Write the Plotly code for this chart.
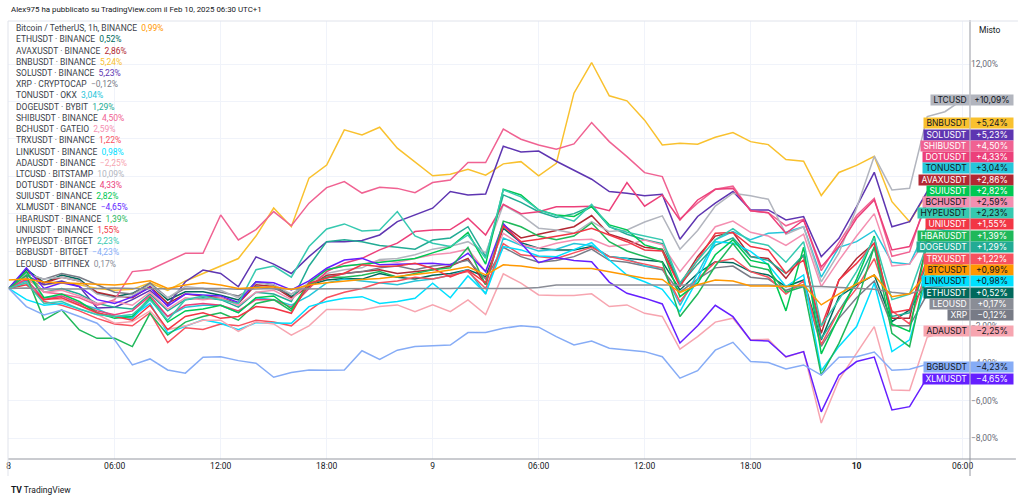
import plotly.graph_objects as go

# ---------------- data (percent change, hourly from Feb 8 00:00) ----------------
hours = list(range(55))
x_tick_hours = [0, 6, 12, 18, 24, 30, 36, 42, 48, 54]
x_tick_labels = ["8", "06:00", "12:00", "18:00", "9", "06:00", "12:00", "18:00", "<b>10</b>", "06:00"]
y_tick_values = [-8, -6, -4, -2, 0, 2, 4, 6, 8, 10, 12]
y_tick_shown = [-8, -6, -4, -2, 12]   # the others sit behind the price tags

btc = [0.45, 0.5, 0.35, 0.3, 0.25, 0.2, 0.18, 0.27, 0.41, 0.0, 0.18,
       0.3, 0.18, 0.0, 0.05, 0.09, -0.05, 0.18, 0.3, 0.41, 0.48, 0.53,
       0.62, 0.75, 0.85, 0.98, 1.16, 0.72, 1.26, 1.2, 1.07, 1.07, 1.07,
       1.07, 0.89, 0.72, 0.54, 0.48, -0.22, 0.2, 0.45, 0.4, 0.13, 0.13,
       0.1, 0.18, -0.88, -0.29, 0.24, 0.72, -0.44, -0.29, 0.81, 0.9, 0.99]
eth = [0, 1.02, 0.31, 0.72, 0.49, -0.26, -0.44, -0.26, 0.24, -0.62, -0.18,
       -0.18, -0.36, -0.62, 0.36, 0.18, -0.44, 0.18, 0.45, 0.53, 0.5, 0.8,
       0.6, 0.5, 0.7, 0.8, 1.0, 0.63, 3.22, 2.45, 2.15, 2.06, 2.06,
       2.24, 1.7, 1.6, 1.52, 1.43, -0.08, 0.8, 1.43, 1.38, 0.9, 0.72,
       0.1, 0.45, -2.75, -0.44, 0.18, 0.72, -1.77, -1.15, 0.4, 0.5, 0.52]
avax = [0, 0.9, 0.3, 0.6, 0.4, -0.2, -0.4, -0.5, 0.1, -0.8, -0.3,
        -0.4, -0.5, -0.8, 0.2, 0.1, -0.5, 0.1, 0.7, 0.8, 0.9, 1.0,
        0.8, 0.9, 1.0, 1.2, 1.6, 0.2, 3.4, 2.7, 2.9, 3.1, 3.3,
        3.9, 2.9, 2.6, 2.2, 2.1, 0.2, 1.7, 2.8, 3.0, 1.7, 1.6,
        0.54, 1.79, -2.4, 0.45, 1.6, 2.42, -1.59, -1.59, 2.5, 2.8, 2.86]
bnb = [0, 0.4, 0.2, 0.3, 0.2, 0.0, -0.1, -0.05, 0.3, -0.1, 0.4,
       0.8, 1.17, 1.6, 2.8, 4.3, 3.3, 5.9, 6.6, 8.48, 8.21, 8.62,
       7.5, 6.78, 6.02, 6.11, 6.37, 6.06, 6.66, 6.78, 6.02, 6.69, 10.44,
       12.08, 10.3, 10.03, 9.0, 7.67, 7.76, 7.71, 8.08, 8.33, 7.85, 7.69,
       6.89, 6.8, 4.97, 6.2, 6.58, 7.06, 4.64, 3.57, 5.09, 5.3, 5.24]
sol = [0, 0.7, 0.2, 0.4, 0.1, -1.05, -1.0, -0.6, -0.1, -0.9, 0.36,
       0.98, 0.8, 0.09, 1.69, 1.3, 0.8, 1.7, 2.5, 2.5, 2.56, 2.86,
       3.57, 3.93, 4.29, 5.18, 5.0, 5.05, 7.6, 7.3, 7.35, 6.8, 6.3,
       5.84, 5.18, 5.09, 4.95, 5.03, 2.63, 3.85, 4.56, 5.18, 4.2, 4.2,
       3.66, 3.84, 1.7, 2.68, 4.37, 6.21, 3.3, 3.57, 5.18, 5.3, 5.23]
xrp = [0, 0.8, 0.5, 0.8, 0.6, 0.2, -0.2, -0.3, 0.3, -0.5, 0.0,
       0.0, -0.2, -0.4, 0.1, 0.0, -0.3, 0.2, 0.6, 0.8, 0.9, 1.1,
       1.2, 1.0, 1.2, 1.3, 1.5, 0.5, 2.2, 1.7, 1.4, 1.5, 1.7,
       2.1, 1.5, 1.4, 1.2, 1.0, -0.2, 0.5, 1.1, 1.2, 0.6, 0.5,
       -0.1, 0.2, -3.1, -1.6, -0.5, 0.4, -2.0, -2.0, -0.3, -0.15, -0.12]
ton = [0, 0.4, -0.5, -0.4, -0.8, -1.1, -1.5, -1.6, -0.6, -1.5, -1.0,
       -0.9, -0.9, -1.3, -0.5, -0.6, -0.9, -0.4, 0.3, 0.5, 0.4, 0.3,
       0.2, 0.4, 0.5, 0.7, 1.0, -0.3, 2.7, 2.3, 2.0, 2.1, 2.4,
       2.3, 1.7, 1.6, 1.2, 1.1, -0.9, 0.8, 2.6, 3.04, 2.6, 2.95,
       3.0, 3.3, 0.6, 2.2, 2.5, 3.1, 1.4, 1.3, 3.3, 3.1, 3.04]
doge = [0, 0.8, -0.2, 0.0, -0.3, -0.8, -1.0, -1.1, -0.3, -1.2, -0.6,
        -0.5, -0.6, -1.0, -0.2, -0.3, -0.7, 1.2, 2.5, 2.6, 2.5, 2.3,
        2.2, 2.1, 2.59, 2.7, 3.3, 1.7, 5.0, 4.6, 4.1, 3.8, 4.0,
        4.4, 3.3, 2.9, 2.6, 2.4, 0.2, 1.3, 2.3, 2.7, 1.7, 1.5,
        0.8, 1.8, -2.7, -1.2, 0.3, 2.2, -1.5, -1.3, 1.4, 1.35, 1.29]
shib = [0, 0.6, -0.2, -0.3, -0.5, -0.9, -0.6, 0.9, 1.0, 1.45, 1.88,
        1.88, 3.93, 2.59, 3.15, 4.11, 3.35, 4.56, 5.39, 5.71, 5.1, 5.41,
        5.35, 5.12, 5.66, 5.8, 6.73, 6.73, 8.52, 7.98, 7.67, 7.44, 7.73,
        8.87, 7.85, 7.05, 6.19, 5.98, 3.71, 4.56, 5.3, 5.47, 4.15, 4.05,
        3.35, 3.7, 0.95, 2.45, 3.9, 4.82, 1.72, 1.95, 4.9, 4.6, 4.5]
bch = [0, 0.6, -0.2, -0.1, -0.4, -0.8, -0.7, -0.9, -0.2, -1.1, -0.5,
       -0.6, -0.5, -0.9, -0.2, -0.1, -0.6, 0.3, 1.0, 1.2, 1.3, 1.5,
       1.4, 1.6, 1.8, 1.9, 2.1, 0.9, 2.95, 2.33, 2.15, 2.42, 2.59,
       2.63, 2.24, 2.33, 2.59, 2.33, 0.9, 2.06, 3.3, 3.6, 3.0, 2.8,
       2.3, 2.9, 0.1, 1.5, 2.8, 4.0, 1.2, 1.3, 2.7, 2.6, 2.59]
trx = [0, 0.3, -0.7, -0.9, -1.2, -1.6, -1.9, -2.0, -1.3, -2.9, -2.1,
       -2.2, -1.9, -2.0, -1.7, -1.8, -2.0, -1.2, -0.5, -0.2, 0.0, 0.3,
       0.4, 0.6, 0.5, 0.7, 0.9, 0.0, 2.4, 1.8, 1.7, 1.6, 1.9,
       2.2, 1.7, 1.5, 1.3, 1.1, -0.7, 0.5, 1.4, 1.6, 0.9, 0.6,
       -0.3, 0.4, -3.0, -1.2, 0.0, 1.6, -1.2, -1.9, 1.1, 1.2, 1.22]
link = [0, -0.6, -0.9, -0.8, -1.1, -1.4, -1.5, -1.5, -0.8, -2.39, -2.03,
        -1.68, -1.86, -2.21, -1.83, -1.85, -1.86, -0.97, -0.7, -0.53, -0.44, -0.8,
        -0.7, -0.53, 0.28, -0.5, 0.67, -0.26, 2.24, 2.06, 1.74, 1.7, 2.06,
        2.45, 1.52, 0.72, 0.36, -0.05, -1.24, 0.5, 2.5, 2.42, 1.98, 1.26,
        0.1, 0.72, -4.4, -3.1, -2.04, 0.28, -3.38, -2.75, 0.6, 0.9, 0.98]
ada = [0, 0.3, -0.5, -0.6, -0.9, -1.4, -1.86, -1.77, -1.2, -2.2, -2.0,
       -1.7, -1.7, -2.3, -1.78, -1.9, -2.5, -2.0, -1.12, -1.12, -1.15, -0.97,
       -0.88, -1.24, -0.88, -1.24, -0.61, -1.4, 0.78, 0.28, -0.35, -0.38, -0.38,
       -0.29, -0.97, -0.88, -1.33, -1.5, -3.25, -2.58, -1.8, -1.59, -2.75, -2.72,
       -3.68, -3.38, -7.2, -4.89, -3.47, -2.04, -5.43, -5.46, -2.6, -2.35, -2.25]
ltc = [0, 0.8, 0.5, 0.6, 0.4, -0.3, -0.5, -0.4, 0.2, -0.5, 0.1,
       0.0, -0.1, -0.5, 0.3, 0.2, -0.3, 0.3, 0.8, 1.0, 1.1, 1.55,
       1.6, 1.8, 2.1, 2.25, 2.5, 1.9, 4.47, 3.93, 3.22, 3.13, 2.95,
       3.57, 3.04, 3.13, 3.55, 3.88, 2.1, 3.1, 4.4, 5.09, 4.95, 4.77,
       2.9, 3.3, 0.35, 1.9, 4.3, 7.07, 5.27, 5.36, 9.19, 9.45, 10.09]
dot = [0, 0.5, -0.6, -0.4, -0.8, -1.2, -1.4, -1.2, -0.4, -1.5, -0.9,
       -0.8, -0.9, -1.2, -0.6, -0.6, -1.0, 0.0, 0.9, 1.35, 1.61, 2.06,
       2.42, 3.04, 3.13, 3.15, 3.75, 2.86, 4.5, 4.0, 4.1, 4.37, 4.37,
       4.4, 4.16, 5.66, 4.4, 5.0, 3.66, 4.73, 5.3, 5.35, 4.15, 4.05,
       2.95, 3.66, 1.15, 2.24, 3.75, 4.73, 2.06, 2.24, 4.6, 4.4, 4.33]
sui = [0, 0.9, -0.5, -0.3, -0.7, -1.3, -1.6, -1.5, -0.5, -1.8, -1.2,
       -1.1, -0.9, -1.3, -0.5, -0.4, -1.1, 0.3, 1.0, 1.2, 1.3, 1.4,
       1.5, 1.6, 1.9, 2.2, 3.0, 1.3, 5.3, 5.0, 4.2, 3.93, 3.85,
       4.37, 3.4, 3.13, 2.33, 2.06, -0.44, 0.28, 1.8, 2.6, 1.5, 1.3,
       -1.2, 2.2, -3.5, -1.5, 0.5, 2.8, -1.9, -2.3, 2.6, 2.8, 2.82]
xlm = [0, 1.1, 0.0, 0.3, 0.1, -0.6, -0.8, -0.45, 0.05, -0.95, -0.3,
       -0.35, -0.4, -0.75, 0.36, 0.3, -0.08, 0.4, 1.08, 1.52, 1.61, 1.26,
       1.3, 1.3, 1.35, 1.25, 1.88, 0.9, 3.46, 2.42, 1.38, 1.65, 1.5,
       1.43, 0.34, -0.26, -0.52, -0.83, -2.92, -2.0, -0.9, -1.51, -2.77, -2.81,
       -3.65, -3.38, -6.6, -4.63, -3.91, -3.67, -6.5, -6.32, -4.76, -4.7, -4.65]
hbar = [0, 0.7, -1.68, -1.15, -2.22, -2.67, -2.67, -3.11, -1.33, -2.49, -1.8,
        -1.5, -1.3, -1.7, -0.8, -0.6, -1.2, 0.2, 0.6, 0.6, 0.7, 0.9,
        0.6, 0.8, 1.0, 1.1, 2.2, 0.2, 3.6, 3.3, 2.8, 2.6, 2.8,
        3.5, 2.5, 2.0, 1.7, 1.4, -1.5, -0.3, 1.2, 2.4, 1.2, 1.0,
        -0.2, 0.1, -4.63, -2.94, -0.8, 2.24, -2.4, -3.11, 1.2, 1.35, 1.39]
uni = [0, 0.2, -0.6, -0.5, -0.9, -1.3, -1.5, -1.7, -0.9, -2.2, -1.5,
       -1.3, -1.6, -1.5, -0.97, -1.06, -1.33, 0.28, 0.54, 0.81, 1.26, 1.17,
       1.2, 1.35, 1.07, 0.62, 0.98, 0.3, 3.34, 2.5, 2.63, 2.77, 2.95,
       3.22, 2.86, 2.5, 2.06, 2.0, 0.1, 1.52, 2.95, 2.99, 2.24, 2.06,
       0.81, 1.52, -2.04, 0.45, 1.34, 2.42, -1.3, -1.13, 1.6, 1.55, 1.55]
hype = [0, 0.3, -0.8, -0.7, -1.1, -1.4, -1.5, -1.4, -0.6, -1.7, -0.6,
        -0.4, -0.6, -0.8, 1.0, 1.2, 0.6, 2.24, 3.18, 3.45, 3.07, 3.13,
        4.11, 2.81, 2.42, 2.24, 2.86, 1.61, 5.27, 4.9, 4.2, 3.9, 3.6,
        4.5, 3.3, 3.0, 2.8, 2.6, 0.3, 1.5, 2.6, 3.2, 2.5, 2.3,
        1.4, 2.5, -2.0, -0.6, 0.9, 2.7, -0.6, -0.3, 2.4, 2.3, 2.23]
bgb = [0, -0.97, -1.42, -1.15, -1.5, -1.86, -2.75, -4.09, -3.77, -4.36, -4.53,
       -3.68, -3.65, -3.86, -4.0, -4.75, -4.5, -4.36, -4.38, -4.36, -3.33, -3.79,
       -3.3, -3.11, -3.06, -3.03, -2.36, -2.36, -2.13, -2.0, -2.07, -2.58, -3.02,
       -2.81, -3.2, -3.29, -3.38, -3.65, -4.8, -4.4, -3.3, -2.88, -3.91, -3.96,
       -4.3, -4.09, -4.63, -3.68, -3.65, -3.4, -4.38, -4.32, -4.05, -4.15, -4.23]
leo = [0, 0.02, -0.03, -0.05, -0.03, 0.0, 0.02, 0.0, -0.02, -0.05, -0.03,
       0.0, 0.0, -0.05, -0.02, 0.0, -0.03, -0.02, 0.0, 0.0, 0.02, 0.0,
       0.0, -0.02, 0.0, 0.0, 0.02, 0.0, 0.0, 0.0, 0.05, 0.18, 0.19,
       0.19, 0.19, 0.19, 0.19, 0.18, 0.18, 0.19, 0.19, 0.19, 0.19, 0.18,
       0.1, 0.12, 0.1, 0.05, 0.0, -0.05, -0.2, -0.3, 0.05, 0.15, 0.17]

# legend label, tag label, values, line colour, tag text colour, tag pixel y
series = [
    ("Bitcoin / TetherUS, 1h, BINANCE", "BTCUSDT", btc, "#ff9800", "#131722", 270.0),
    ("ETHUSDT · BINANCE", "ETHUSDT", eth, "#00695c", "#ffffff", 292.7),
    ("AVAXUSDT · BINANCE", "AVAXUSDT", avax, "#b22833", "#ffffff", 180.0),
    ("BNBUSDT · BINANCE", "BNBUSDT", bnb, "#f9c12e", "#131722", 123.3),
    ("SOLUSDT · BINANCE", "SOLUSDT", sol, "#5e35b1", "#ffffff", 134.7),
    ("XRP · CRYPTOCAP", "XRP", xrp, "#787b86", "#ffffff", 315.3),
    ("TONUSDT · OKX", "TONUSDT", ton, "#26c6da", "#131722", 168.3),
    ("DOGEUSDT · BYBIT", "DOGEUSDT", doge, "#22ab94", "#ffffff", 247.3),
    ("SHIBUSDT · BINANCE", "SHIBUSDT", shib, "#f06292", "#ffffff", 146.0),
    ("BCHUSDT · GATEIO", "BCHUSDT", bch, "#f48fb1", "#131722", 202.3),
    ("TRXUSDT · BINANCE", "TRXUSDT", trx, "#f7525f", "#ffffff", 259.0),
    ("LINKUSDT · BINANCE", "LINKUSDT", link, "#00e0ff", "#131722", 281.3),
    ("ADAUSDT · BINANCE", "ADAUSDT", ada, "#f7a5b0", "#131722", 331.0),
    ("LTCUSD · BITSTAMP", "LTCUSD", ltc, "#b2b5be", "#131722", 100.0),
    ("DOTUSDT · BINANCE", "DOTUSDT", dot, "#ec407a", "#ffffff", 156.7),
    ("SUIUSDT · BINANCE", "SUIUSDT", sui, "#00c853", "#ffffff", 191.3),
    ("XLMUSDT · BINANCE", "XLMUSDT", xlm, "#651fff", "#ffffff", 379.0),
    ("HBARUSDT · BINANCE", "HBARUSDT", hbar, "#1fb85a", "#ffffff", 236.0),
    ("UNIUSDT · BINANCE", "UNIUSDT", uni, "#f23645", "#ffffff", 224.3),
    ("HYPEUSDT · BITGET", "HYPEUSDT", hype, "#36c9b0", "#131722", 213.3),
    ("BGBUSDT · BITGET", "BGBUSDT", bgb, "#86acf6", "#131722", 367.3),
    ("LEOUSD · BITFINEX", "LEOUSD", leo, "#8a8d96", "#ffffff", 304.3),
]

for s in series:
    assert len(s[2]) == len(hours), s[1]

# ---------------- geometry ----------------
W, H = 1024, 502
ML, MR, MT, MB = 6, 54, 21, 43
PW = W - ML - MR
PH = H - MT - MB
FONT = "Inter, Roboto, sans-serif"
TEXT_FONT = "Roboto, sans-serif"


def px_x(x):
    return (x - ML) / PW


def px_y(y):
    return (H - MB - y) / PH


def fmt(v, sign=False):
    s = f"{abs(v):.2f}".replace(".", ",") + "%"
    if v < 0:
        return "\u2212" + s
    return ("+" if sign else "") + s


fig = go.Figure()
draw_order = list(range(1, len(series))) + [0]
for i in draw_order:
    name, tag, vals, col, tcol, ty = series[i]
    fig.add_trace(go.Scatter(x=hours, y=vals, mode="lines",
                             line=dict(color=col, width=1.5),
                             hoverinfo="skip", showlegend=False))

annotations = []
annotations.append(dict(text="Alex975 ha pubblicato su TradingView.com il Feb 10, 2025 06:30 UTC+1",
                        x=px_x(7), y=px_y(10), xref="paper", yref="paper",
                        xanchor="left", yanchor="middle", showarrow=False,
                        font=dict(family=TEXT_FONT, size=7.9, color="#131722")))
annotations.append(dict(text="Misto", x=px_x(990), y=px_y(30), xref="paper", yref="paper",
                        xanchor="center", yanchor="middle", showarrow=False,
                        font=dict(family=TEXT_FONT, size=8.5, color="#131722")))
annotations.append(dict(text="<b>TV</b> TradingView", x=px_x(7), y=px_y(490), xref="paper", yref="paper",
                        xanchor="left", yanchor="middle", showarrow=False,
                        font=dict(family=TEXT_FONT, size=8.5, color="#131722")))

for k, (name, tag, vals, col, tcol, ty) in enumerate(series):
    ly = 28.3 + k * 11.2
    txt = f"{name}  <span style='color:{col}'>{fmt(vals[-1])}</span>"
    annotations.append(dict(text=txt, x=px_x(12), y=px_y(ly), xref="paper", yref="paper",
                            xanchor="left", yanchor="middle", showarrow=False,
                            font=dict(family=TEXT_FONT, size=8.5, color="#3b3f4a")))

for name, tag, vals, col, tcol, ty in sorted(series, key=lambda s: s[5]):
    annotations.append(dict(text="\u00a0" + tag + "\u00a0", x=px_x(969.5), y=px_y(ty),
                            xref="paper", yref="paper", xanchor="right", yanchor="middle",
                            showarrow=False, bgcolor=col, borderpad=0,
                            font=dict(family=FONT, size=8.5, color=tcol)))
    annotations.append(dict(text=fmt(vals[-1], sign=True), x=px_x(970), y=px_y(ty),
                            xref="paper", yref="paper", xanchor="left", yanchor="middle",
                            width=42, align="center",
                            showarrow=False, bgcolor=col, borderpad=0,
                            font=dict(family=FONT, size=8.5, color=tcol)))

shapes = [
    dict(type="line", xref="paper", yref="paper", x0=1, x1=1, y0=px_y(476), y1=px_y(20),
         line=dict(color="#9598a1", width=1)),
    dict(type="line", xref="paper", yref="paper", x0=0, x1=px_x(1016), y0=0, y1=0,
         line=dict(color="#9598a1", width=1)),
    dict(type="line", xref="paper", yref="paper", x0=0, x1=px_x(1018), y0=px_y(21), y1=px_y(21),
         line=dict(color="#e0e3eb", width=1)),
    dict(type="line", xref="paper", yref="paper", x0=0, x1=0, y0=px_y(476), y1=px_y(21),
         line=dict(color="#e0e3eb", width=1)),
]

fig.update_layout(
    width=W, height=H,
    margin=dict(l=ML, r=MR, t=MT, b=MB),
    paper_bgcolor="#ffffff", plot_bgcolor="#ffffff",
    showlegend=False,
    annotations=annotations,
    shapes=shapes,
    xaxis=dict(range=[-0.04, 54.42], tickmode="array", tickvals=x_tick_hours,
               ticktext=x_tick_labels, showgrid=True, gridcolor="#f0f3fa", gridwidth=1,
               zeroline=False, showline=False, ticks="",
               tickfont=dict(family=TEXT_FONT, size=8.5, color="#131722")),
    yaxis=dict(range=[-9.12, 14.30], side="right", tickmode="array", tickvals=y_tick_values,
               ticktext=[fmt(v) if v in y_tick_shown else "" for v in y_tick_values],
               showgrid=True, gridcolor="#f0f3fa",
               gridwidth=1, zeroline=False, showline=False, ticks="",
               tickfont=dict(family=TEXT_FONT, size=8.5, color="#6a6d78")),
    hovermode=False,
)

fig.write_html("out.html", config={"displayModeBar": False},
               post_script="document.body.style.margin='0';document.body.style.overflow='hidden';")
